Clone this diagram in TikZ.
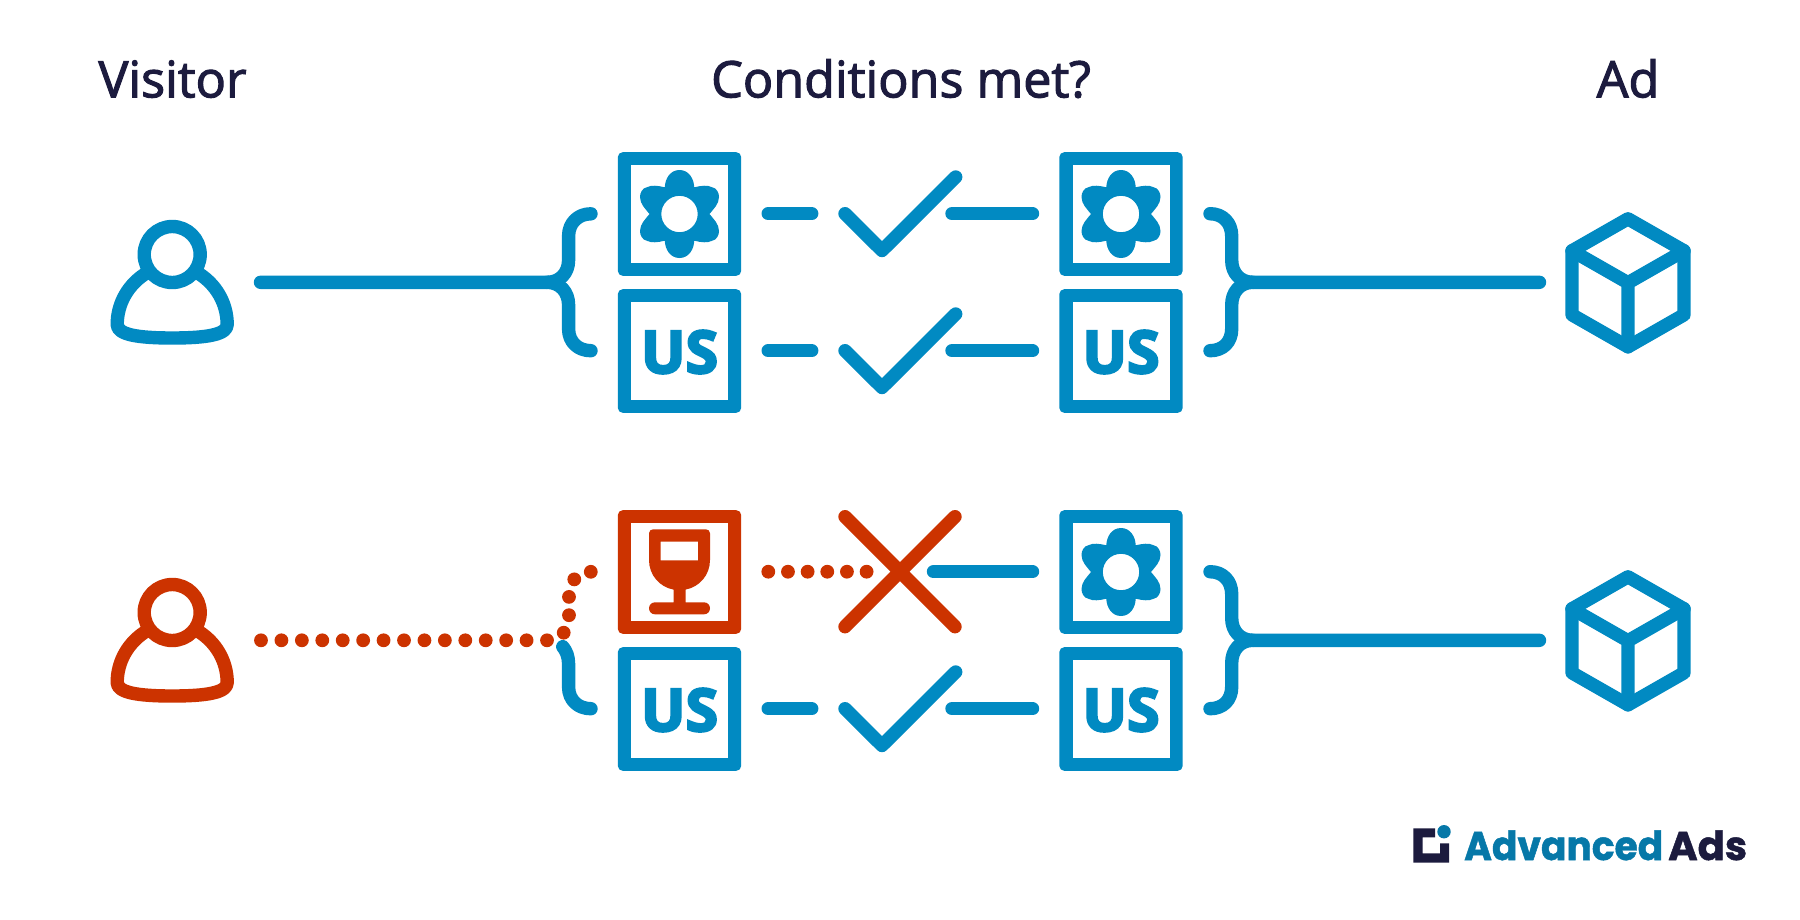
\documentclass[tikz,border=0pt]{standalone}
\usepackage{fontspec}
\usepackage{graphicx}
\setmainfont{Open Sans}
\newfontfamily\logofont{Poppins}[BoldFeatures={FakeBold=1.2}]
\newfontfamily\titlefont{Open Sans}[FakeBold=2.2]
\newfontfamily\usfont{Open Sans}[BoldFeatures={FakeBold=4}]
\usetikzlibrary{calc}
\definecolor{iblue}{HTML}{018AC2}
\definecolor{ired}{HTML}{CC3300}
\definecolor{inavy}{HTML}{1C1B3E}
\definecolor{lblue}{HTML}{0678A8}
\tikzset{
  x=1pt,y=-1pt,
  stroke/.style={line width=13.4pt,line cap=round,line join=round},
  dotrun/.style={line width=13.8pt,line cap=round,dash pattern=on 0pt off #1pt},
  iconbox/.style={rectangle,rounded corners=5pt,minimum width=123.4pt,minimum height=123.7pt,inner sep=0pt,outer sep=0pt},
  iconhole/.style={rectangle,fill=white,minimum width=97pt,minimum height=97.3pt,inner sep=0pt,outer sep=0pt},
  ustext/.style={text=iblue,inner sep=0pt,font=\fontsize{59}{59}\usfont\bfseries},
  title/.style={text=inavy,inner sep=0pt,anchor=base,font=\fontsize{50.3}{50}\titlefont},
  logotext/.style={inner sep=0pt,anchor=base west,font=\fontsize{40}{40}\logofont\bfseries},
}
\newcommand{\flowerico}[2]{%
  \fill[iblue,even odd rule,shift={(#1,#2)}]
    (0,-44) .. controls (9.5,-44) and (14.5,-35) .. (14.7,-26.7)
    .. controls (22,-28.5) and (28,-29) .. (32,-27)
    .. controls (37.5,-26) and (39.5,-21) .. (39.5,-17)
    .. controls (39.5,-10) and (34,-5) .. (30,0)
    .. controls (34,5) and (39.5,10) .. (39.5,17)
    .. controls (39.5,21) and (37.5,26) .. (32,27)
    .. controls (28,29) and (22,28.5) .. (14.7,26.7)
    .. controls (14.5,35) and (9.5,44) .. (0,44)
    .. controls (-9.5,44) and (-14.5,35) .. (-14.7,26.7)
    .. controls (-22,28.5) and (-28,29) .. (-32,27)
    .. controls (-37.5,26) and (-39.5,21) .. (-39.5,17)
    .. controls (-39.5,10) and (-34,5) .. (-30,0)
    .. controls (-34,-5) and (-39.5,-10) .. (-39.5,-17)
    .. controls (-39.5,-21) and (-37.5,-26) .. (-32,-27)
    .. controls (-28,-29) and (-22,-28.5) .. (-14.7,-26.7)
    .. controls (-14.5,-35) and (-9.5,-44) .. (0,-44) -- cycle
    (0,0) circle (18.2pt);}
\newcommand{\personico}[3]{%
  \begin{scope}[shift={(#1,#2)},#3,stroke]
    \draw (-24,17.5) .. controls (-44,29) and (-55,49) .. (-55,70)
      .. controls (-55,80) and (-35,83.5) .. (0,83.5)
      .. controls (35,83.5) and (55,80) .. (55,70)
      .. controls (55,49) and (44,29) .. (24,17.5);
    \draw (0,0) circle (28pt);
  \end{scope}}
\newcommand{\cubeico}[2]{%
  \begin{scope}[shift={(#1,#2)},iblue,stroke]
    \draw (0,-64) -- (56,-32) -- (56,32) -- (0,64) -- (-56,32) -- (-56,-32) -- cycle;
    \draw (-56,-32) -- (0,0) -- (56,-32) (0,0) -- (0,64);
  \end{scope}}
\newcommand{\checkico}[2]{%
  \draw[iblue,stroke] (#1-37,#2) -- (#1,#2+36.8) -- (#1+73.7,#2-36.7);}
\begin{document}
\begin{tikzpicture}
\useasboundingbox (0,0) rectangle (1800,919);
\fill[white] (0,0) rectangle (1800,919);
% titles
\node[title] (tv) at (172.5,97.3) {Visitor};
\node[title] (tc) at (901,97.3) {Conditions met?};
\node[title] (ta) at (1628,97.3) {Ad};
% persons
\personico{172.2}{254.5}{iblue}
\personico{172.2}{612.5}{ired}
\coordinate (v1) at (260.5,282.3);
\coordinate (v2) at (261,640.3);
% boxes
\foreach \nm/\xx/\yy/\cc in {a1/679.5/214/iblue,a2/679.5/351/iblue,a3/679.5/572/ired,a4/679.5/709/iblue,
  b1/1121/214/iblue,b2/1121/351/iblue,b3/1121/572/iblue,b4/1121/709/iblue}{
  \node[iconbox,fill=\cc] (\nm) at (\xx,\yy) {};
  \node[iconhole] at (\nm) {};
}
\flowerico{679.5}{214}
\flowerico{1121}{214}
\flowerico{1121}{572}
\foreach \nm in {a2,a4,b2,b4}{\node[ustext] at ($(\nm)+(0,1)$) {US};}
% wine glass
\begin{scope}[shift={(679.5,572)}]
  \fill[ired,even odd rule] (-26.5,-42.7) -- (26.5,-42.7)
    .. controls (28.7,-42.7) and (30.5,-40.9) .. (30.5,-38.7) -- (30.5,-12)
    .. controls (30.5,3) and (20,15) .. (6,17.6) -- (6,30.3) -- (24.5,30.3)
    .. controls (28,30.3) and (30.5,33) .. (30.5,36.3)
    .. controls (30.5,39.6) and (28,42.3) .. (24.5,42.3) -- (-24.5,42.3)
    .. controls (-28,42.3) and (-30.5,39.6) .. (-30.5,36.3)
    .. controls (-30.5,33) and (-28,30.3) .. (-24.5,30.3) -- (-6,30.3) -- (-6,17.6)
    .. controls (-20,15) and (-30.5,3) .. (-30.5,-12) -- (-30.5,-38.7)
    .. controls (-30.5,-40.9) and (-28.7,-42.7) .. (-26.5,-42.7) -- cycle
    (-18.8,-30.4) rectangle (18.7,-11.7);
\end{scope}
% left braces
\draw[iblue,stroke] (v1) -- (547,282.3) .. controls (560,282.3) and (568.6,273) .. (568.6,260)
  -- (568.6,236) .. controls (568.6,223) and (578,213.8) .. (591,213.8);
\draw[iblue,stroke] (547,282.3) .. controls (560,282.3) and (568.6,292) .. (568.6,305)
  -- (568.6,329) .. controls (568.6,342) and (578,350.7) .. (591,350.7);
\draw[ired,dotrun=20.43] (v2) -- (548,640.3);
\draw[ired,dotrun=18.3] (563.7,632.7) -- (569,615.3) -- (569,596.7) -- (574.4,579) -- (591,571.7);
\draw[iblue,stroke] (562.8,646.7) .. controls (566.5,651) and (568.6,657) .. (568.6,664)
  -- (568.6,687) .. controls (568.6,700) and (578,708.7) .. (591,708.7);
% middle connectors
\foreach \yy in {213.7,350.7,708.7}{
  \draw[iblue,stroke] (768.2,\yy) -- (811.7,\yy);
  \draw[iblue,stroke] (952,\yy) -- (1032.5,\yy);
}
\draw[iblue,stroke] (933.5,571.7) -- (1032.5,571.7);
\checkico{882}{213.7}
\checkico{882}{350.7}
\checkico{882}{708.7}
\draw[ired,dotrun=19.66] (768.3,571.7) -- (872,571.7);
\draw[ired,stroke] (845,516.7) -- (955,626.7) (955,516.7) -- (845,626.7);
% right braces
\foreach \dy in {0,358}{
  \draw[iblue,stroke] (1210,213.7+\dy) .. controls (1223,213.7+\dy) and (1231.7,223+\dy) .. (1231.7,236+\dy)
    -- (1231.7,260+\dy) .. controls (1231.7,273+\dy) and (1240,282.3+\dy) .. (1253,282.3+\dy)
    -- (1539.5,282.3+\dy);
  \draw[iblue,stroke] (1253,282.3+\dy) .. controls (1240,282.3+\dy) and (1231.7,292+\dy) .. (1231.7,305+\dy)
    -- (1231.7,329+\dy) .. controls (1231.7,342+\dy) and (1223,350.7+\dy) .. (1210,350.7+\dy);
}
\cubeico{1628}{282.8}
\cubeico{1628}{640.8}
% logo
\fill[inavy] (1413.3,828.3) -- (1435,828.3) -- (1435,837.3) -- (1422.7,837.3) -- (1422.7,853.3)
  -- (1440,853.3) -- (1440,843.3) -- (1449,843.3) -- (1449,862.7) -- (1413.3,862.7) -- cycle;
\fill[lblue] (1444,831.7) circle (6.7pt);
\node[logotext,text=lblue] (l1) at (1464,860) {\scalebox{0.94}[1]{Advanced}};
\node[logotext,text=inavy] (l2) at (1668,860) {Ads};
\end{tikzpicture}
\end{document}
